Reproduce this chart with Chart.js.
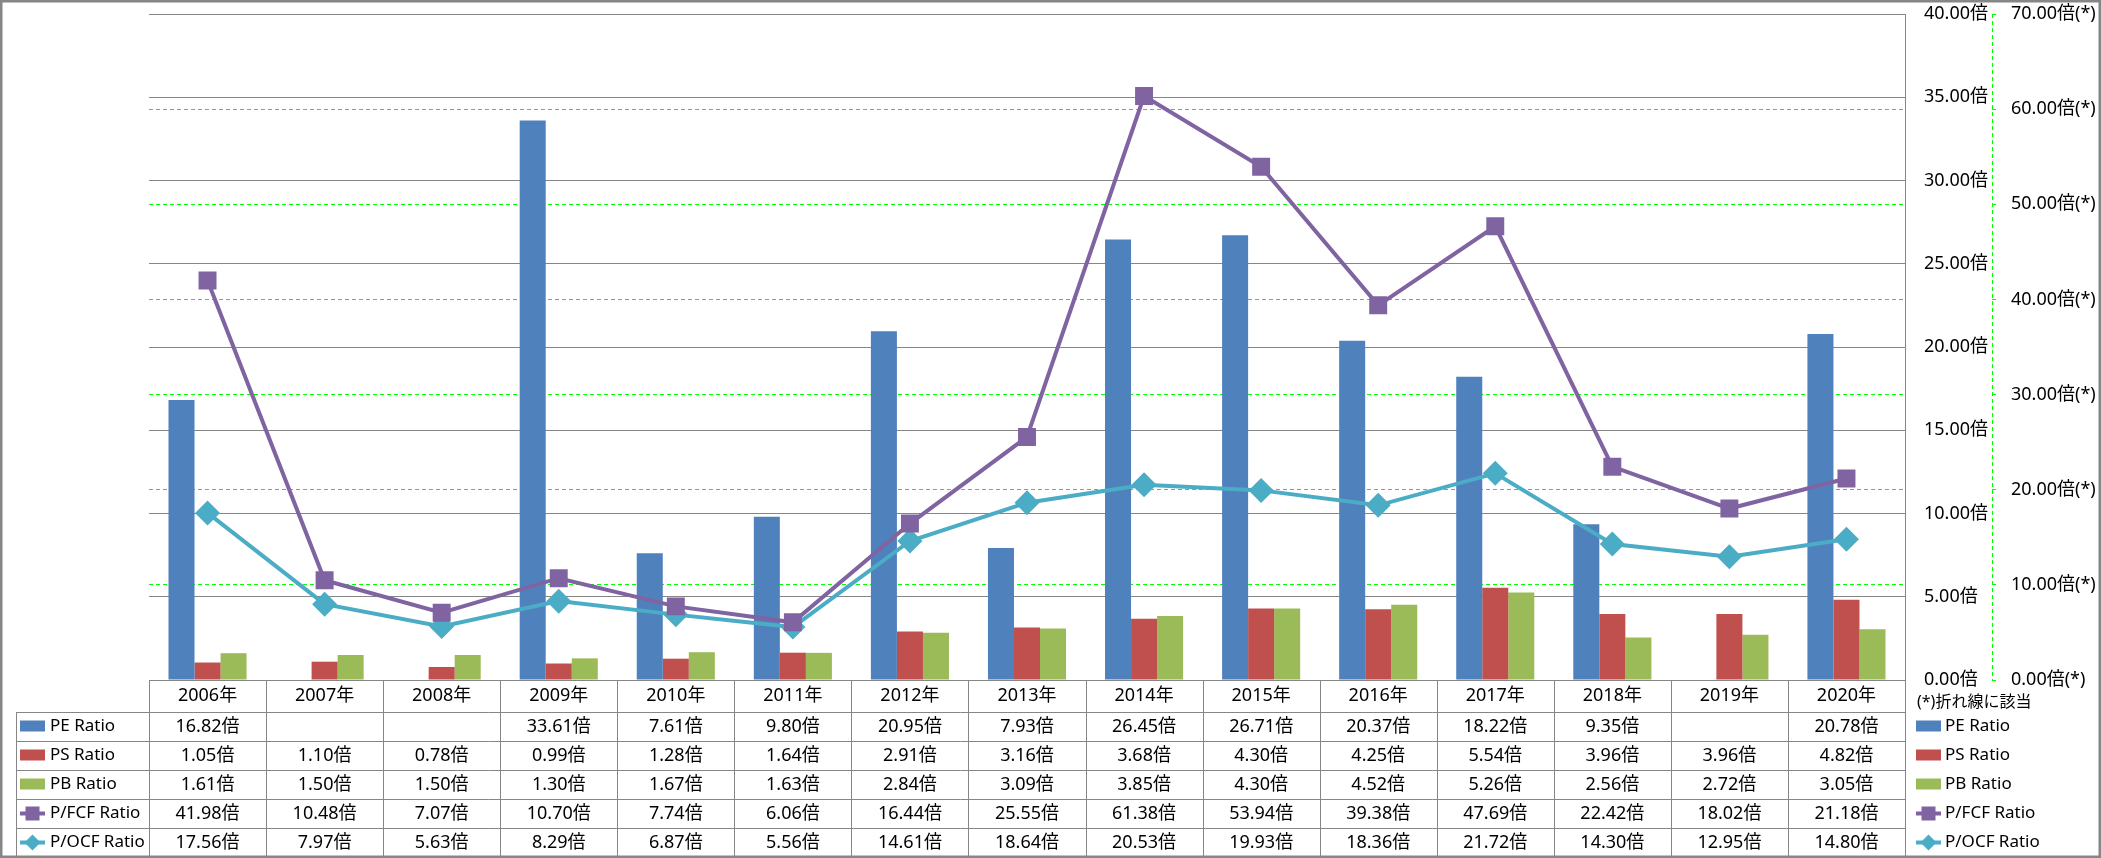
<!DOCTYPE html>
<html>
<head>
<meta charset="utf-8">
<script src="https://cdn.jsdelivr.net/npm/chart.js@4.4.0/dist/chart.umd.min.js"></script>
<style>
  html, body { margin: 0; padding: 0; background: #fff; }
  #wrap { width: 2101px; height: 858px; }
</style>
</head>
<body>
<div id="wrap"><canvas id="myChart" width="2101" height="858"></canvas></div>
<script>
'use strict';

const categories = ['2006年', '2007年', '2008年', '2009年', '2010年', '2011年', '2012年', '2013年',
  '2014年', '2015年', '2016年', '2017年', '2018年', '2019年', '2020年'];
const peRatio = [16.82, null, null, 33.61, 7.61, 9.80, 20.95, 7.93, 26.45, 26.71, 20.37, 18.22, 9.35, null, 20.78];
const psRatio = [1.05, 1.10, 0.78, 0.99, 1.28, 1.64, 2.91, 3.16, 3.68, 4.30, 4.25, 5.54, 3.96, 3.96, 4.82];
const pbRatio = [1.61, 1.50, 1.50, 1.30, 1.67, 1.63, 2.84, 3.09, 3.85, 4.30, 4.52, 5.26, 2.56, 2.72, 3.05];
const pfcfRatio = [41.98, 10.48, 7.07, 10.70, 7.74, 6.06, 16.44, 25.55, 61.38, 53.94, 39.38, 47.69, 22.42, 18.02, 21.18];
const pocfRatio = [17.56, 7.97, 5.63, 8.29, 6.87, 5.56, 14.61, 18.64, 20.53, 19.93, 18.36, 21.72, 14.30, 12.95, 14.80];

// axis ranges
const barAxisMax = 40;
const barAxisStep = 5;
const lineAxisMax = 70;
const lineAxisStep = 10;
const unit = '倍';
const lineMark = '(*)';
const lineNote = '(*)折れ線に該当';

const blue = '#4F81BD';
const red = '#C0504D';
const green = '#9BBB59';
const purple = '#8064A2';
const aqua = '#4BACC6';
const gray = '#868686';
const dashGreen = '#00FF00';
const FONT = '"Noto Sans", "Noto Sans CJK JP", sans-serif';
const fontSize = 18;
const nameSize = 17;

// rows of the data table, same order as the picture
const tableRows = [
  { name: 'PE Ratio', data: peRatio, color: blue, kind: 'bar' },
  { name: 'PS Ratio', data: psRatio, color: red, kind: 'bar' },
  { name: 'PB Ratio', data: pbRatio, color: green, kind: 'bar' },
  { name: 'P/FCF Ratio', data: pfcfRatio, color: purple, kind: 'rect' },
  { name: 'P/OCF Ratio', data: pocfRatio, color: aqua, kind: 'rectRot' },
];

function fmt(v) {
  return v === null ? '' : v.toFixed(2) + unit;
}

function crisp(v) {
  return Math.round(v) + 0.5;
}

function drawSwatch(ctx, row, x, y) {
  if (row.kind === 'bar') {
    ctx.fillStyle = row.color;
    ctx.fillRect(x, y - 6, 25, 11);
    return;
  }
  ctx.strokeStyle = row.color;
  ctx.lineWidth = 4;
  ctx.beginPath();
  ctx.moveTo(x, y);
  ctx.lineTo(x + 25, y);
  ctx.stroke();
  ctx.fillStyle = row.color;
  let cx = x + 12.5;
  if (row.kind === 'rect') {
    ctx.fillRect(cx - 7, y - 7, 14, 14);
  } else {
    ctx.beginPath();
    ctx.moveTo(cx, y - 8);
    ctx.lineTo(cx + 8, y);
    ctx.lineTo(cx, y + 8);
    ctx.lineTo(cx - 8, y);
    ctx.closePath();
    ctx.fill();
  }
}

// keep the axis labels from pushing the plot area down
function fixAxis(width) {
  return (scale) => {
    scale.width = width;
    scale.paddingTop = 0;
    scale.paddingBottom = 0;
  };
}

const dataTablePlugin = {
  id: 'dataTable',
  afterDraw(chart) {
    const ctx = chart.ctx;
    const area = chart.chartArea;
    const xScale = chart.scales.x;
    const y2 = chart.scales.y2;
    const colW = (area.right - area.left) / categories.length;
    const headTop = area.bottom;
    const headBottom = headTop + 32;
    const rowH = 29;
    const legLeft = 16;
    const tableBottom = headBottom + rowH * tableRows.length;

    ctx.save();

    // dashed border of the line axis
    ctx.strokeStyle = dashGreen;
    ctx.lineWidth = 1;
    ctx.setLineDash([4, 3]);
    ctx.beginPath();
    ctx.moveTo(crisp(y2.left), area.top);
    ctx.lineTo(crisp(y2.left), area.bottom);
    ctx.stroke();
    ctx.setLineDash([]);

    // table grid
    ctx.strokeStyle = gray;
    ctx.beginPath();
    ctx.moveTo(area.left, crisp(headTop));
    ctx.lineTo(area.right, crisp(headTop));
    for (let i = 0; i <= tableRows.length; i++) {
      let yy = crisp(headBottom + rowH * i);
      ctx.moveTo(legLeft, yy);
      ctx.lineTo(area.right, yy);
    }
    ctx.moveTo(crisp(legLeft), headBottom);
    ctx.lineTo(crisp(legLeft), tableBottom);
    for (let i = 0; i <= categories.length; i++) {
      let xx = crisp(area.left + colW * i);
      ctx.moveTo(xx, headTop);
      ctx.lineTo(xx, tableBottom);
    }
    ctx.stroke();

    // table text
    ctx.font = fontSize + 'px ' + FONT;
    ctx.fillStyle = '#000';
    ctx.textBaseline = 'middle';
    ctx.textAlign = 'center';
    for (let i = 0; i < categories.length; i++) {
      let cx = xScale.getPixelForValue(i);
      ctx.fillText(categories[i], cx, (headTop + headBottom) / 2);
      for (let r = 0; r < tableRows.length; r++) {
        let cy = headBottom + rowH * r + rowH / 2;
        ctx.fillText(fmt(tableRows[r].data[i]), cx, cy);
      }
    }

    // legend keys in the table and at the right
    for (let r = 0; r < tableRows.length; r++) {
      let cy = headBottom + rowH * r + rowH / 2;
      drawSwatch(ctx, tableRows[r], legLeft + 4, cy);
      drawSwatch(ctx, tableRows[r], 1916, cy);
      ctx.fillStyle = '#000';
      ctx.textAlign = 'left';
      ctx.font = nameSize + 'px ' + FONT;
      ctx.fillText(tableRows[r].name, legLeft + 34, cy);
      ctx.fillText(tableRows[r].name, 1945, cy);
    }
    ctx.font = '16px ' + FONT;
    ctx.textAlign = 'left';
    ctx.fillText(lineNote, 1917, headTop + 22);

    // outer frame
    ctx.strokeStyle = gray;
    ctx.strokeRect(0.5, 0.5, chart.width - 1, chart.height - 1);
    ctx.restore();
  }
};

const chartData = {
  labels: categories,
  datasets: [
    {
      type: 'line',
      label: 'P/FCF Ratio',
      data: pfcfRatio,
      yAxisID: 'y2',
      borderColor: purple,
      backgroundColor: purple,
      borderWidth: 4,
      pointStyle: 'rect',
      pointRadius: 12.7,
      pointBorderWidth: 0,
      tension: 0,
      order: 0,
    },
    {
      type: 'line',
      label: 'P/OCF Ratio',
      data: pocfRatio,
      yAxisID: 'y2',
      borderColor: aqua,
      backgroundColor: aqua,
      borderWidth: 4,
      pointStyle: 'rectRot',
      pointRadius: 12.5,
      pointBorderWidth: 0,
      tension: 0,
      order: 0,
    },
    { label: 'PE Ratio', data: peRatio, backgroundColor: blue, yAxisID: 'y', order: 1 },
    { label: 'PS Ratio', data: psRatio, backgroundColor: red, yAxisID: 'y', order: 1 },
    { label: 'PB Ratio', data: pbRatio, backgroundColor: green, yAxisID: 'y', order: 1 },
  ],
};

const config = {
  type: 'bar',
  data: chartData,
  plugins: [dataTablePlugin],
  options: {
    responsive: false,
    animation: false,
    events: [],
    layout: { padding: { left: 149, top: 14, right: 4, bottom: 178 } },
    datasets: {
      bar: { barPercentage: 1, categoryPercentage: 0.667 },
    },
    plugins: {
      legend: { display: false },
      tooltip: { enabled: false },
    },
    scales: {
      x: {
        display: false,
        offset: true,
        grid: { display: false },
      },
      y: {
        position: 'right',
        weight: 0,
        min: 0,
        max: barAxisMax,
        ticks: {
          stepSize: barAxisStep,
          padding: 19,
          color: '#000',
          font: { family: FONT, size: fontSize },
          callback: (v) => v.toFixed(2) + unit,
        },
        grid: { color: gray, drawTicks: false },
        border: { display: true, color: gray },
        afterFit: fixAxis(87),
      },
      y2: {
        position: 'right',
        weight: 1,
        min: 0,
        max: lineAxisMax,
        ticks: {
          stepSize: lineAxisStep,
          padding: 15,
          color: '#000',
          font: { family: FONT, size: fontSize },
          callback: (v) => v.toFixed(2) + unit + lineMark,
        },
        grid: {
          color: (c) => (c.tick && (c.tick.value === 0 || c.tick.value === lineAxisMax)) ? 'rgba(0,0,0,0)' : dashGreen,
          tickColor: dashGreen,
          tickLength: 4,
          drawTicks: true,
        },
        border: { display: false, dash: [4, 3] },
        afterFit: fixAxis(105),
      },
    },
  },
};

let chartCanvas = document.getElementById('myChart').getContext('2d');
const myChart = new Chart(chartCanvas, config);
</script>
</body>
</html>
